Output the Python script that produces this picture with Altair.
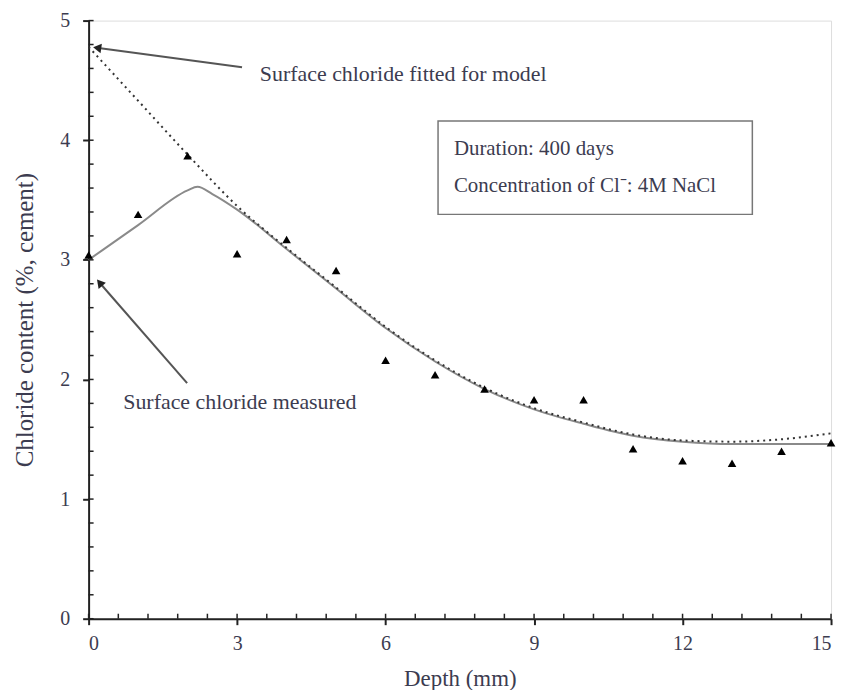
import altair as alt
import pandas as pd

# Measured points (triangles)
depth = list(range(16))
measured = [3.04, 3.38, 3.87, 3.05, 3.17, 2.91, 2.16, 2.04, 1.92, 1.83, 1.83, 1.42, 1.32, 1.30, 1.40, 1.47]

# Solid curve (surface chloride measured)
solid_x = [0, 1, 2, 2.2, 2.5, 3, 4, 5, 6, 7, 8, 9, 10, 11, 12, 13, 14, 15]
solid_y = [3.00, 3.29, 3.58, 3.61, 3.55, 3.42, 3.09, 2.76, 2.43, 2.15, 1.92, 1.75, 1.63, 1.53, 1.48, 1.46, 1.46, 1.46]

# Dotted curve (surface chloride fitted for model)
dot_x = [0, 1, 2, 3, 4, 5, 6, 7, 8, 9, 10, 11, 12, 13, 14, 15]
dot_y = [4.78, 4.33, 3.88, 3.45, 3.10, 2.77, 2.44, 2.16, 1.93, 1.76, 1.64, 1.54, 1.49, 1.48, 1.50, 1.55]

x_major = [0, 3, 6, 9, 12, 15]
y_major = [0, 1, 2, 3, 4, 5]
x_minor = [round(i * 0.6, 1) for i in range(26)]
y_minor = [round(i * 0.2, 1) for i in range(26)]

W, H = 746, 601
FONT = "Liberation Serif"
TXT = "#3c3c50"

xs = alt.Scale(domain=[0, 15], nice=False)
ys = alt.Scale(domain=[0, 5], nice=False)

pts = pd.DataFrame({"x": depth, "y": measured})
solid = pd.DataFrame({"x": solid_x, "y": solid_y})
dotted = pd.DataFrame({"x": dot_x, "y": dot_y})

base_x = alt.X("x:Q", scale=xs, axis=alt.Axis(
    values=x_major, title="Depth (mm)", format="d", grid=False,
    domainColor="#222", domainWidth=2, tickColor="#222", tickWidth=2, tickSize=6,
    labelFont=FONT, labelFontSize=20, labelColor=TXT, labelPadding=9,
    titleFont=FONT, titleFontSize=23, titleFontWeight="normal", titleColor=TXT, titlePadding=14))
base_y = alt.Y("y:Q", scale=ys, axis=alt.Axis(
    values=y_major, title="Chloride content (%, cement)", format="d", grid=False,
    domainColor="#222", domainWidth=2, tickColor="#222", tickWidth=2, tickSize=6,
    labelFont=FONT, labelFontSize=20, labelColor=TXT, labelPadding=13,
    titleFont=FONT, titleFontSize=25, titleFontWeight="normal", titleColor=TXT, titlePadding=22))

line_solid = alt.Chart(solid).mark_line(color="#8a8a8a", strokeWidth=2, interpolate="monotone").encode(x=base_x, y=base_y)
line_dot = alt.Chart(dotted).mark_line(color="#333", strokeWidth=2, strokeDash=[2, 4], interpolate="monotone").encode(x="x:Q", y="y:Q")
points = alt.Chart(pts).mark_point(shape="triangle-up", filled=True, color="black", size=75, opacity=1).encode(x="x:Q", y="y:Q")

# inward ticks
xt = alt.Chart(pd.DataFrame({"x": x_minor})).mark_rule(color="#222", strokeWidth=1.5).encode(
    x="x:Q", y=alt.value(H), y2=alt.value(H - 5))
yt = alt.Chart(pd.DataFrame({"y": y_minor})).mark_rule(color="#222", strokeWidth=1.5).encode(
    y="y:Q", x=alt.value(0), x2=alt.value(5))

# annotations
arrows = pd.DataFrame({"x": [3.10, 1.99], "y": [4.61, 1.97], "x2": [0.20, 0.24], "y2": [4.77, 2.80]})
arrow_lines = alt.Chart(arrows).mark_rule(color="#555", strokeWidth=2).encode(
    x="x:Q", y="y:Q", x2="x2:Q", y2="y2:Q")
heads = pd.DataFrame({"x": [0.2, 0.24], "y": [4.77, 2.80], "a": [278, 320]})
arrow_heads = alt.Chart(heads).mark_point(shape="triangle", filled=True, color="#222", size=90, opacity=1).encode(
    x="x:Q", y="y:Q", angle=alt.Angle("a:Q", scale=None))

ann = pd.DataFrame({
    "x": [3.46, 0.70],
    "y": [4.55, 1.81],
    "t": ["Surface chloride fitted for model", "Surface chloride measured"]})
ann_text = alt.Chart(ann).mark_text(align="left", baseline="middle", font=FONT, fontSize=22, color=TXT).encode(
    x="x:Q", y="y:Q", text="t:N")

boxlab = pd.DataFrame({
    "x": [7.38, 7.38],
    "y": [3.93, 3.62],
    "t": ["Duration: 400 days", "Concentration of Cl\u207b: 4M NaCl"]})
box_text = alt.Chart(boxlab).mark_text(align="left", baseline="middle", font=FONT, fontSize=21, color=TXT).encode(
    x="x:Q", y="y:Q", text="t:N")

box = alt.Chart(pd.DataFrame({"x": [7.06], "x2": [13.41], "y": [4.16], "y2": [3.38]})).mark_rect(
    fill="white", stroke="#777", strokeWidth=1.5).encode(x="x:Q", x2="x2:Q", y="y:Q", y2="y2:Q")

chart = alt.layer(line_solid, line_dot, xt, yt, arrow_lines, arrow_heads, points, box, ann_text, box_text).properties(
    width=W, height=H,
    autosize=alt.AutoSizeParams(type="none"),
    padding={"left": 81, "top": 11, "right": 8, "bottom": 70},
).configure_view(stroke="#888", strokeWidth=1.5).configure(background="white")

chart.save("out.html", embed_options={"renderer": "svg", "actions": False})
